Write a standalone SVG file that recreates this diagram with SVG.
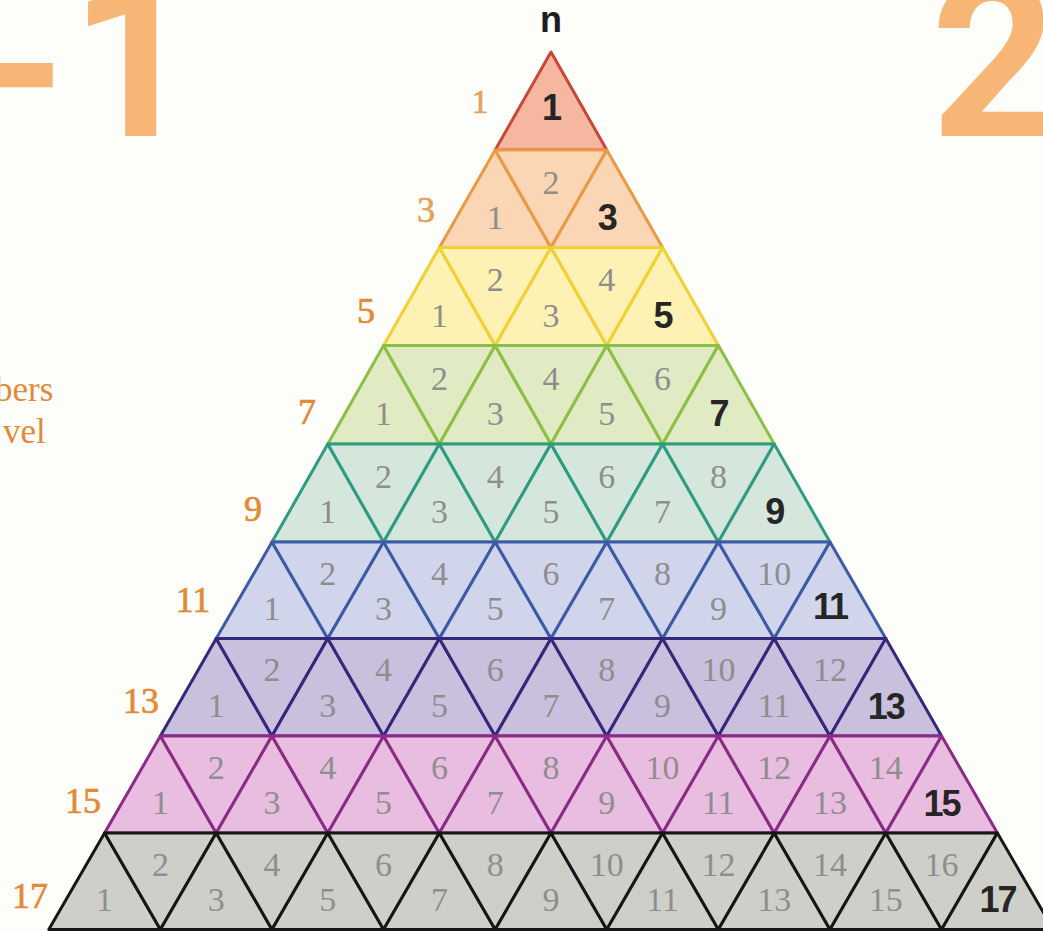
<svg xmlns="http://www.w3.org/2000/svg" width="1043" height="931" viewBox="0 0 1043 931">
<style>
.bg{fill:#fdfdf9}
.big{font-family:Roboto,"Liberation Sans",sans-serif;font-weight:bold;font-size:220px;fill:#f7b676}
.side{font-family:"Liberation Serif",serif;font-size:35px;fill:#e08a3a}
.lab{font-family:"Liberation Serif",serif;font-size:36px;fill:#e38a36;stroke:#e38a36;stroke-width:0.7px;text-anchor:middle}
.lab.pale{fill:#e2a25c;stroke:#e2a25c}
.n{font-family:"Liberation Sans",Arial,sans-serif;font-weight:bold;font-size:36px;fill:#1e1e1e;text-anchor:middle}
polygon{stroke-width:3;stroke-linejoin:round}
.g{font-family:"Liberation Serif",serif;font-size:34px;fill:#8e8e8e;text-anchor:middle}
.b{font-family:"Liberation Sans",Arial,sans-serif;font-weight:bold;font-size:36px;fill:#262626;text-anchor:middle;letter-spacing:-2px}
.r1 polygon{fill:#f6b7a0;stroke:#c8463a}
.r2 polygon{fill:#fbd6b4;stroke:#ea9a45}
.r3 polygon{fill:#fdf2b4;stroke:#f2cf33}
.r4 polygon{fill:#e1ebc3;stroke:#8dbf45}
.r5 polygon{fill:#d5e7dd;stroke:#2f9b82}
.r6 polygon{fill:#d1d5ec;stroke:#3f5aa5}
.r7 polygon{fill:#c8c0dd;stroke:#35287a}
.r8 polygon{fill:#e9bde0;stroke:#8c2b85}
.r9 polygon{fill:#cfcfca;stroke:#161616}
</style>
<rect class="bg" x="0" y="0" width="1043" height="931"/>
<g id="titles">
<text class="big" y="136"><tspan x="-56" dy="16">−</tspan><tspan x="70" dy="-16">1</tspan></text>
<text class="big" x="931" y="136">2</text>
<text class="side" x="-5" y="401">bers</text>
<text class="side" x="3" y="443">vel</text>
<text class="n" x="551" y="32">n</text>
</g>
<g id="level-labels">
<text class="lab pale" x="480" y="113" style="font-size:33px">1</text>
<text class="lab pale" x="426" y="222">3</text>
<text class="lab" x="366" y="323">5</text>
<text class="lab" x="307" y="424">7</text>
<text class="lab" x="253" y="521">9</text>
<text class="lab" x="193" y="612">11</text>
<text class="lab" x="141" y="713">13</text>
<text class="lab" x="83" y="813">15</text>
<text class="lab" x="30" y="908">17</text>
</g>
<g id="connectors"/>
<g id="row1" class="r1">
<g id="r1-1"><polygon points="495.2,150 606.8,150 551,52"/><text class="b" x="551" y="120">1</text></g>
</g>
<g id="row2" class="r2">
<g id="r2-1"><polygon points="439.4,247.5 551,247.5 495.2,150"/><text class="g" x="495.2" y="229">1</text></g>
<g id="r2-2"><polygon points="495.2,150 606.8,150 551,247.5"/><text class="g" x="551" y="194">2</text></g>
<g id="r2-3"><polygon points="551,247.5 662.6,247.5 606.8,150"/><text class="b" x="606.8" y="230">3</text></g>
</g>
<g id="row3" class="r3">
<g id="r3-1"><polygon points="383.6,345.5 495.2,345.5 439.4,247.5"/><text class="g" x="439.4" y="327">1</text></g>
<g id="r3-2"><polygon points="439.4,247.5 551,247.5 495.2,345.5"/><text class="g" x="495.2" y="291">2</text></g>
<g id="r3-3"><polygon points="495.2,345.5 606.8,345.5 551,247.5"/><text class="g" x="551" y="327">3</text></g>
<g id="r3-4"><polygon points="551,247.5 662.6,247.5 606.8,345.5"/><text class="g" x="606.8" y="291">4</text></g>
<g id="r3-5"><polygon points="606.8,345.5 718.4,345.5 662.6,247.5"/><text class="b" x="662.6" y="328">5</text></g>
</g>
<g id="row4" class="r4">
<g id="r4-1"><polygon points="327.8,444 439.4,444 383.6,345.5"/><text class="g" x="383.6" y="425">1</text></g>
<g id="r4-2"><polygon points="383.6,345.5 495.2,345.5 439.4,444"/><text class="g" x="439.4" y="390">2</text></g>
<g id="r4-3"><polygon points="439.4,444 551,444 495.2,345.5"/><text class="g" x="495.2" y="425">3</text></g>
<g id="r4-4"><polygon points="495.2,345.5 606.8,345.5 551,444"/><text class="g" x="551" y="390">4</text></g>
<g id="r4-5"><polygon points="551,444 662.6,444 606.8,345.5"/><text class="g" x="606.8" y="425">5</text></g>
<g id="r4-6"><polygon points="606.8,345.5 718.4,345.5 662.6,444"/><text class="g" x="662.6" y="390">6</text></g>
<g id="r4-7"><polygon points="662.6,444 774.2,444 718.4,345.5"/><text class="b" x="718.4" y="426">7</text></g>
</g>
<g id="row5" class="r5">
<g id="r5-1"><polygon points="272,542 383.6,542 327.8,444"/><text class="g" x="327.8" y="523">1</text></g>
<g id="r5-2"><polygon points="327.8,444 439.4,444 383.6,542"/><text class="g" x="383.6" y="488">2</text></g>
<g id="r5-3"><polygon points="383.6,542 495.2,542 439.4,444"/><text class="g" x="439.4" y="523">3</text></g>
<g id="r5-4"><polygon points="439.4,444 551,444 495.2,542"/><text class="g" x="495.2" y="488">4</text></g>
<g id="r5-5"><polygon points="495.2,542 606.8,542 551,444"/><text class="g" x="551" y="523">5</text></g>
<g id="r5-6"><polygon points="551,444 662.6,444 606.8,542"/><text class="g" x="606.8" y="488">6</text></g>
<g id="r5-7"><polygon points="606.8,542 718.4,542 662.6,444"/><text class="g" x="662.6" y="523">7</text></g>
<g id="r5-8"><polygon points="662.6,444 774.2,444 718.4,542"/><text class="g" x="718.4" y="488">8</text></g>
<g id="r5-9"><polygon points="718.4,542 830,542 774.2,444"/><text class="b" x="774.2" y="524">9</text></g>
</g>
<g id="row6" class="r6">
<g id="r6-1"><polygon points="216.2,638.5 327.8,638.5 272,542"/><text class="g" x="272" y="620">1</text></g>
<g id="r6-2"><polygon points="272,542 383.6,542 327.8,638.5"/><text class="g" x="327.8" y="585">2</text></g>
<g id="r6-3"><polygon points="327.8,638.5 439.4,638.5 383.6,542"/><text class="g" x="383.6" y="620">3</text></g>
<g id="r6-4"><polygon points="383.6,542 495.2,542 439.4,638.5"/><text class="g" x="439.4" y="585">4</text></g>
<g id="r6-5"><polygon points="439.4,638.5 551,638.5 495.2,542"/><text class="g" x="495.2" y="620">5</text></g>
<g id="r6-6"><polygon points="495.2,542 606.8,542 551,638.5"/><text class="g" x="551" y="585">6</text></g>
<g id="r6-7"><polygon points="551,638.5 662.6,638.5 606.8,542"/><text class="g" x="606.8" y="620">7</text></g>
<g id="r6-8"><polygon points="606.8,542 718.4,542 662.6,638.5"/><text class="g" x="662.6" y="585">8</text></g>
<g id="r6-9"><polygon points="662.6,638.5 774.2,638.5 718.4,542"/><text class="g" x="718.4" y="620">9</text></g>
<g id="r6-10"><polygon points="718.4,542 830,542 774.2,638.5"/><text class="g" x="774.2" y="585">10</text></g>
<g id="r6-11"><polygon points="774.2,638.5 885.8,638.5 830,542"/><text class="b" x="830" y="619">11</text></g>
</g>
<g id="row7" class="r7">
<g id="r7-1"><polygon points="160.4,736 272,736 216.2,638.5"/><text class="g" x="216.2" y="717">1</text></g>
<g id="r7-2"><polygon points="216.2,638.5 327.8,638.5 272,736"/><text class="g" x="272" y="681">2</text></g>
<g id="r7-3"><polygon points="272,736 383.6,736 327.8,638.5"/><text class="g" x="327.8" y="717">3</text></g>
<g id="r7-4"><polygon points="327.8,638.5 439.4,638.5 383.6,736"/><text class="g" x="383.6" y="681">4</text></g>
<g id="r7-5"><polygon points="383.6,736 495.2,736 439.4,638.5"/><text class="g" x="439.4" y="717">5</text></g>
<g id="r7-6"><polygon points="439.4,638.5 551,638.5 495.2,736"/><text class="g" x="495.2" y="681">6</text></g>
<g id="r7-7"><polygon points="495.2,736 606.8,736 551,638.5"/><text class="g" x="551" y="717">7</text></g>
<g id="r7-8"><polygon points="551,638.5 662.6,638.5 606.8,736"/><text class="g" x="606.8" y="681">8</text></g>
<g id="r7-9"><polygon points="606.8,736 718.4,736 662.6,638.5"/><text class="g" x="662.6" y="717">9</text></g>
<g id="r7-10"><polygon points="662.6,638.5 774.2,638.5 718.4,736"/><text class="g" x="718.4" y="681">10</text></g>
<g id="r7-11"><polygon points="718.4,736 830,736 774.2,638.5"/><text class="g" x="774.2" y="717">11</text></g>
<g id="r7-12"><polygon points="774.2,638.5 885.8,638.5 830,736"/><text class="g" x="830" y="681">12</text></g>
<g id="r7-13"><polygon points="830,736 941.6,736 885.8,638.5"/><text class="b" x="885.8" y="719">13</text></g>
</g>
<g id="row8" class="r8">
<g id="r8-1"><polygon points="104.6,833 216.2,833 160.4,736"/><text class="g" x="160.4" y="814">1</text></g>
<g id="r8-2"><polygon points="160.4,736 272,736 216.2,833"/><text class="g" x="216.2" y="779">2</text></g>
<g id="r8-3"><polygon points="216.2,833 327.8,833 272,736"/><text class="g" x="272" y="814">3</text></g>
<g id="r8-4"><polygon points="272,736 383.6,736 327.8,833"/><text class="g" x="327.8" y="779">4</text></g>
<g id="r8-5"><polygon points="327.8,833 439.4,833 383.6,736"/><text class="g" x="383.6" y="814">5</text></g>
<g id="r8-6"><polygon points="383.6,736 495.2,736 439.4,833"/><text class="g" x="439.4" y="779">6</text></g>
<g id="r8-7"><polygon points="439.4,833 551,833 495.2,736"/><text class="g" x="495.2" y="814">7</text></g>
<g id="r8-8"><polygon points="495.2,736 606.8,736 551,833"/><text class="g" x="551" y="779">8</text></g>
<g id="r8-9"><polygon points="551,833 662.6,833 606.8,736"/><text class="g" x="606.8" y="814">9</text></g>
<g id="r8-10"><polygon points="606.8,736 718.4,736 662.6,833"/><text class="g" x="662.6" y="779">10</text></g>
<g id="r8-11"><polygon points="662.6,833 774.2,833 718.4,736"/><text class="g" x="718.4" y="814">11</text></g>
<g id="r8-12"><polygon points="718.4,736 830,736 774.2,833"/><text class="g" x="774.2" y="779">12</text></g>
<g id="r8-13"><polygon points="774.2,833 885.8,833 830,736"/><text class="g" x="830" y="814">13</text></g>
<g id="r8-14"><polygon points="830,736 941.6,736 885.8,833"/><text class="g" x="885.8" y="779">14</text></g>
<g id="r8-15"><polygon points="885.8,833 997.4,833 941.6,736"/><text class="b" x="941.6" y="816">15</text></g>
</g>
<g id="row9" class="r9">
<g id="r9-1"><polygon points="48.8,929.5 160.4,929.5 104.6,833"/><text class="g" x="104.6" y="911">1</text></g>
<g id="r9-2"><polygon points="104.6,833 216.2,833 160.4,929.5"/><text class="g" x="160.4" y="876">2</text></g>
<g id="r9-3"><polygon points="160.4,929.5 272,929.5 216.2,833"/><text class="g" x="216.2" y="911">3</text></g>
<g id="r9-4"><polygon points="216.2,833 327.8,833 272,929.5"/><text class="g" x="272" y="876">4</text></g>
<g id="r9-5"><polygon points="272,929.5 383.6,929.5 327.8,833"/><text class="g" x="327.8" y="911">5</text></g>
<g id="r9-6"><polygon points="327.8,833 439.4,833 383.6,929.5"/><text class="g" x="383.6" y="876">6</text></g>
<g id="r9-7"><polygon points="383.6,929.5 495.2,929.5 439.4,833"/><text class="g" x="439.4" y="911">7</text></g>
<g id="r9-8"><polygon points="439.4,833 551,833 495.2,929.5"/><text class="g" x="495.2" y="876">8</text></g>
<g id="r9-9"><polygon points="495.2,929.5 606.8,929.5 551,833"/><text class="g" x="551" y="911">9</text></g>
<g id="r9-10"><polygon points="551,833 662.6,833 606.8,929.5"/><text class="g" x="606.8" y="876">10</text></g>
<g id="r9-11"><polygon points="606.8,929.5 718.4,929.5 662.6,833"/><text class="g" x="662.6" y="911">11</text></g>
<g id="r9-12"><polygon points="662.6,833 774.2,833 718.4,929.5"/><text class="g" x="718.4" y="876">12</text></g>
<g id="r9-13"><polygon points="718.4,929.5 830,929.5 774.2,833"/><text class="g" x="774.2" y="911">13</text></g>
<g id="r9-14"><polygon points="774.2,833 885.8,833 830,929.5"/><text class="g" x="830" y="876">14</text></g>
<g id="r9-15"><polygon points="830,929.5 941.6,929.5 885.8,833"/><text class="g" x="885.8" y="911">15</text></g>
<g id="r9-16"><polygon points="885.8,833 997.4,833 941.6,929.5"/><text class="g" x="941.6" y="876">16</text></g>
<g id="r9-17"><polygon points="941.6,929.5 1053.2,929.5 997.4,833"/><text class="b" x="997.4" y="912">17</text></g>
</g>
</svg>
